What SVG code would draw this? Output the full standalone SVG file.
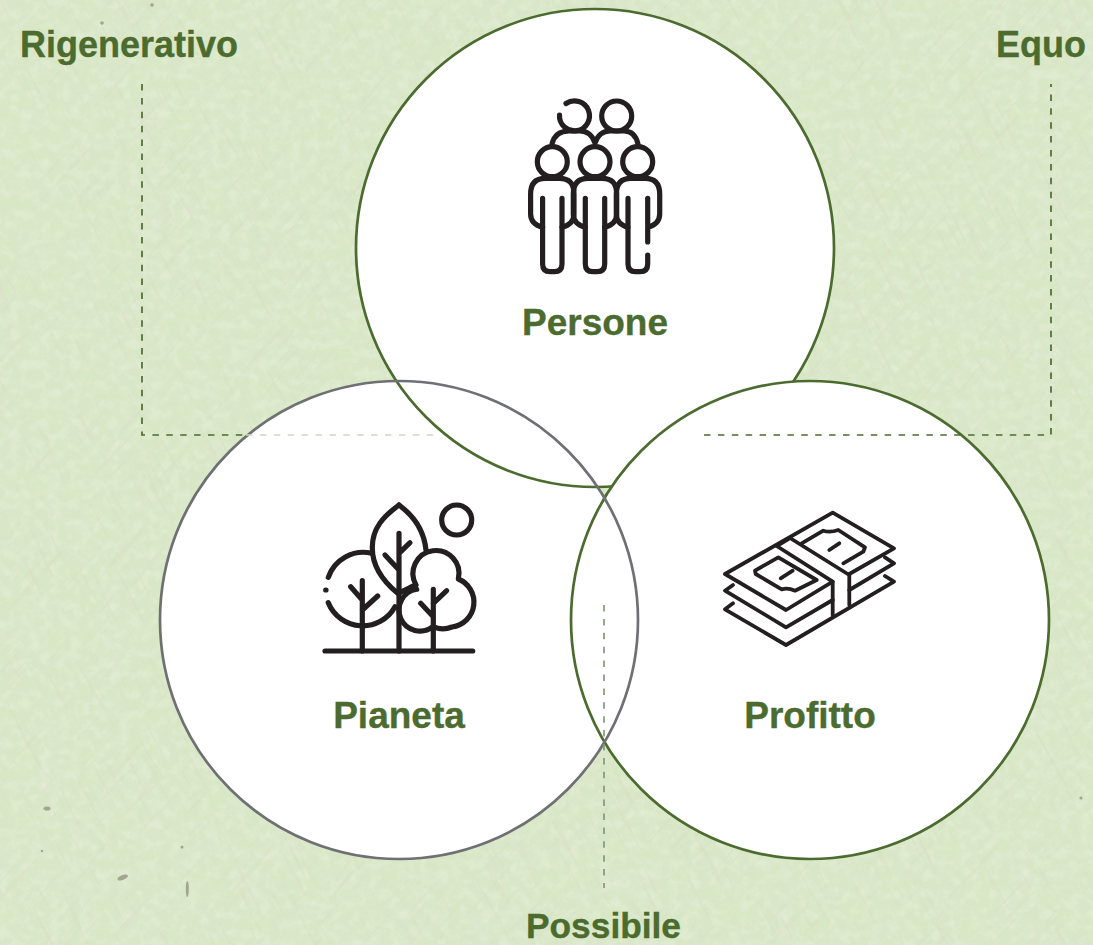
<svg xmlns="http://www.w3.org/2000/svg" width="1093" height="945" viewBox="0 0 1093 945">
<style>
.t{font-family:"Liberation Sans",Arial,sans-serif;font-weight:700;font-size:37px;fill:#4b6b2f;stroke:#4b6b2f;stroke-width:.35;text-anchor:middle}
.w{fill:#fff}
.g{fill:none;stroke:#4b6b2f;stroke-width:2.7}
.i{fill:none;stroke:#231f20;stroke-width:5.200;stroke-linecap:round;stroke-linejoin:round}
.m{stroke-width:3.800}
.d{fill:none;stroke:#4b6b2f;stroke-width:1.700;stroke-dasharray:6.500 7.400}
.s{fill:#8f8f7c;opacity:.75}
</style>
<defs>
<filter id="light" x="0" y="0" width="100%" height="100%">
<feTurbulence type="fractalNoise" baseFrequency="0.1" numOctaves="3" seed="11"/>
<feColorMatrix values="0 0 0 0 0.92  0 0 0 0 0.96  0 0 0 0 0.85  2.600 0 0 0 -1.050"/>
</filter>
<filter id="dark" x="0" y="0" width="100%" height="100%">
<feTurbulence type="fractalNoise" baseFrequency="0.03" numOctaves="4" seed="4"/>
<feColorMatrix values="0 0 0 0 0.72  0 0 0 0 0.79  0 0 0 0 0.62  2.400 0 0 0 -0.950"/>
</filter>
<filter id="fibreA" x="0" y="0" width="100%" height="100%">
<feTurbulence type="fractalNoise" baseFrequency="0.012 0.22" numOctaves="3" seed="21"/>
<feColorMatrix values="0 0 0 0 0.70  0 0 0 0 0.72  0 0 0 0 0.56  7 0 0 0 -4.300"/>
</filter>
<g id="fig">
<path d="M-9.700 227.300Q-21.700 224-21.700 214V194Q-21.700 178.300-7 178.300H7Q21.700 178.300 21.700 194V214Q21.700 224 9.700 227.300"/>
<path d="M-9.700 198.300V264Q-9.700 271.700-2 271.700H2Q9.700 271.700 9.700 264V198.300"/>
<circle cy="161.700" r="15"/>
</g>
</defs>
<g id="background">
<rect width="1093" height="945" fill="#d8e7c6"/>
<rect width="1093" height="945" filter="url(#dark)" opacity=".45"/>
<rect width="1093" height="945" filter="url(#light)" opacity=".25"/>
<g transform="rotate(62 546 472)"><rect x="-300" y="-300" width="1700" height="1550" filter="url(#fibreA)" opacity=".4"/></g>
<g transform="rotate(-48 546 472)"><rect x="-300" y="-300" width="1700" height="1550" filter="url(#fibreA)" opacity=".35"/></g>
<ellipse class="s" cx="47" cy="808.500" rx="3.500" ry="2"/>
<ellipse class="s" cx="122.700" cy="877.500" rx="5.500" ry="2.500" transform="rotate(-20 122.700 877.500)"/>
<ellipse class="s" cx="187.300" cy="889" rx="1.500" ry="8"/>
<circle class="s" cx="182" cy="847" r="1.500"/>
<circle class="s" cx="42" cy="851" r="1.200"/>
<circle class="s" cx="102" cy="23" r="1.800"/>
<circle class="s" cx="152" cy="5" r="1.800"/>
<circle class="s" cx="1081" cy="798" r="1.500"/>
</g>
<circle class="w" cx="399" cy="620" r="239"/>
<g id="node-persone">
<circle class="w" cx="595" cy="248" r="239"/>
<circle class="g" cx="595" cy="248" r="239"/>
<g class="i">
<path d="M559.500 115A15 15 0 1 0 566 103.500"/>
<circle cx="616.700" cy="116" r="15"/>
<path d="M552 144Q555 131 569 131H580Q591 131 595 143Q599 131 610 131H624Q635 131 638 144"/>
<use href="#fig" x="552.300"/>
<use href="#fig" x="595"/>
<path d="M627.900 227.300Q616.300 224 616.300 214V194Q616.300 178.300 631 178.300H645Q659.700 178.300 659.700 194V214Q659.700 224 647.700 227.300V242"/>
<path d="M628 198.300V264Q628 271.700 635.700 271.700H640Q647.700 271.700 647.700 264V255"/>
<path d="M647.700 198.300V225"/>
<circle cx="637.700" cy="161.700" r="15"/>
</g>
<text class="t" x="595" y="335">Persone</text>
</g>
<g id="node-profitto">
<circle class="w" cx="810" cy="620" r="239"/>
<circle class="g" cx="810" cy="620" r="239"/>
<g class="i m">
<path d="M832.700 581.700L786 610L725 574L832.700 512.700L894 548.300L849.300 574"/>
<path d="M733 585L725 590.700L786 627.300L832.700 600M849.300 590L894 563.300L885 557.300"/>
<path d="M733 603.300L725 609.300L786 645L894 581.700L885 576"/>
<path d="M776.700 546L790 538M790 538L849.300 575V605M776.700 546L832.700 581.700V615"/>
<path d="M801.700 543.300L823.300 530.700Q830 533 838.300 530L865 547.300L863.300 551.700L843.300 563.300"/>
<path d="M755 570.700L778.300 557.300L816.700 580L795 590.700Q788 587.500 781.700 589.300L755.700 574Z"/>
<path d="M829.300 550L839.300 543.300M780.700 578.300L792.700 570.700"/>
</g>
<text class="t" x="810" y="728">Profitto</text>
</g>
<g id="node-pianeta">
<circle cx="399" cy="620" r="239" fill="none" stroke="#6f7073" stroke-width="2.700"/>
<g class="i">
<circle cx="456.700" cy="520" r="15"/>
<path d="M325 651H472.700"/>
<path d="M399 505C384 516 372 528 372.300 548C372.300 566 384 582 397.700 593.300Q406 590 413 586"/>
<path d="M399 505C414 516 424 530 426 550"/>
<path d="M399 533.300V651M385 555L399 570M410 542.700L399 553.300"/>
<path d="M328.300 577.300A37 37 0 0 1 371.700 553.300"/>
<path d="M328.300 602.700A37 37 0 0 0 395 606.700"/>
<path d="M325.700 590H326"/>
<path d="M362.300 580.700V651M350.700 586.700L362.300 600M377.700 596L362.300 610"/>
<path d="M416 585A23 23 0 1 1 458.300 579A25 25 0 0 1 452 627Q442 631 433 626.500A21 21 0 1 1 416.700 589.300"/>
<path d="M433.300 589.300V651M446.700 590.700L433.300 603.300M420.700 603.300L433.300 616.700"/>
</g>
<text class="t" x="399" y="728">Pianeta</text>
</g>
<g id="connectors">
<path class="d" d="M142 84V435H246"/>
<path class="d" d="M246 435H440" style="stroke:#cfd6c4"/>
<path class="d" d="M704 435H1051V84"/>
<path class="d" d="M604 605V888" style="stroke:#83997a"/>
</g>
<text class="t" x="129" y="57" textLength="218" lengthAdjust="spacingAndGlyphs">Rigenerativo</text>
<text class="t" x="1041" y="57" textLength="90" lengthAdjust="spacingAndGlyphs">Equo</text>
<text class="t" x="603.500" y="938" style="font-size:35px" textLength="155" lengthAdjust="spacingAndGlyphs">Possibile</text>
</svg>
